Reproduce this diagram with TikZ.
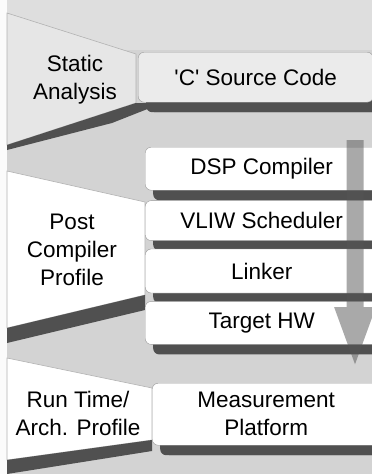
\documentclass[tikz,border=0pt]{standalone}
\usepackage{fontspec}
\setmainfont{Liberation Sans}
\usetikzlibrary{positioning}
\usetikzlibrary{arrows.meta}
\usetikzlibrary{shadows}

\definecolor{bggray}{HTML}{D3D3D3}
\definecolor{toplight}{HTML}{DEDEDE}
\definecolor{wedgegray}{HTML}{E6E6E6}
\definecolor{shadowgray}{HTML}{505050}
\definecolor{srcgray}{HTML}{EBEBEB}
\definecolor{flowgray}{HTML}{555555}

\tikzset{
 stage/.style={draw=gray!80,fill=white,rounded corners=6pt,anchor=north west,
  inner sep=0pt,align=center,font=\fontsize{22.5}{28}\selectfont,
  drop shadow={shadow xshift=8pt,shadow yshift=-10pt,fill=shadowgray,opacity=1}},
 phase/.style={align=center,font=\fontsize{22.5}{28}\selectfont},
 wedge/.style={fill=white,draw=gray!60,line width=0.6pt},
 band/.style={fill=shadowgray},
}

\begin{document}
\begin{tikzpicture}[x=1pt,y=-1pt]
 \useasboundingbox (0,0) rectangle (372,474);
 \fill[bggray] (0,0) rectangle (372,474);
 \fill[toplight] (7,0) rectangle (372,50);
 \fill[white!92!bggray] (0,0) rectangle (7,474);

 % left-hand funnels
 \draw[wedge,fill=wedgegray](7,13)--(136,54)--(136,103)--(7,145)--cycle;
 \fill[band](136,103)--(7,145)--(7,150)--(112,123)--(150,108)--(150,103)--cycle;
 \draw[wedge](7,171)--(145,202)--(145,295)--(7,328)--cycle;
 \fill[band](145,295)--(7,328)--(7,343)--(145,310)--cycle;
 \draw[wedge](7,358)--(152,388)--(152,440)--(7,460)--cycle;
 \fill[band](152,440)--(7,460)--(7,474)--(152,451)--cycle;

 \node[phase] (static) at (75,80) {Static\\Analysis};
 \node[phase] (post) at (72,250) {Post\\Compiler\\Profile};
 \node[phase] (runtime) at (78,413) {Run Time/\\Arch. Profile};

 % tool chain boxes
 \node[stage,fill=srcgray,minimum width=235pt,minimum height=50pt,
  drop shadow={shadow xshift=11pt,shadow yshift=-10pt,fill=shadowgray,opacity=1}]
  (source) at (138,52) {\textquotesingle C\textquotesingle\ Source Code};
 \node[stage,minimum width=233pt,minimum height=43pt] (dsp) at (145,147) {DSP Compiler};
 \node[stage,minimum width=233pt,minimum height=40pt,below=10pt of dsp.south west,anchor=north west] (vliw) {VLIW Scheduler};
 \node[stage,minimum width=233pt,minimum height=44pt,below=8pt of vliw.south west,anchor=north west] (linker) {Linker};
 \node[stage,minimum width=233pt,minimum height=43pt,below=8pt of linker.south west,anchor=north west] (target) {Target HW};

 % flow arrow through the chain
 \coordinate (flowtop) at (355,140);
 \coordinate (flowtip) at (355,370);
 \begin{scope}[transparency group,opacity=0.5]
  \draw[flowgray,line width=17pt,-{Triangle[length=63pt,width=36pt]}] (flowtop) -- (flowtip);
 \end{scope}

 \node[stage,minimum width=228pt,minimum height=62pt,
  drop shadow={shadow xshift=12pt,shadow yshift=-10pt,fill=shadowgray,opacity=1}]
  (platform) at (152,383) {Measurement\\Platform};
\end{tikzpicture}
\end{document}
